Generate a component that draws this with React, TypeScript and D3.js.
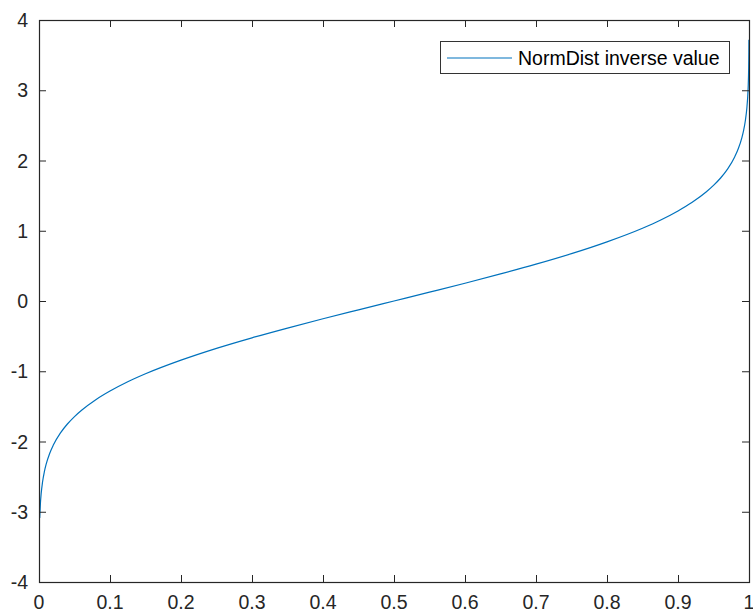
import React from "react";
import * as d3 from "d3";

const probs = [
  0.001, 0.002, 0.003, 0.005, 0.0075, 0.01, 0.015, 0.02, 0.03, 0.04, 0.05, 0.06, 0.08,
  0.1, 0.125, 0.15, 0.2, 0.25, 0.3, 0.35, 0.4, 0.45, 0.5, 0.55, 0.6, 0.65, 0.7, 0.75,
  0.8, 0.85, 0.875, 0.9, 0.92, 0.94, 0.95, 0.96, 0.97, 0.98, 0.985, 0.99, 0.9925,
  0.995, 0.997, 0.998, 0.999, 0.9995, 0.9998, 0.9999,
];
const inverseValues = [
  -3.09, -2.878, -2.748, -2.576, -2.432, -2.326, -2.17, -2.054, -1.881, -1.751, -1.645,
  -1.555, -1.405, -1.282, -1.15, -1.036, -0.842, -0.674, -0.524, -0.385, -0.253, -0.126,
  0, 0.126, 0.253, 0.385, 0.524, 0.674, 0.842, 1.036, 1.15, 1.282, 1.405, 1.555, 1.645,
  1.751, 1.881, 2.054, 2.17, 2.326, 2.432, 2.576, 2.748, 2.878, 3.09, 3.291, 3.54, 3.719,
];
const xTicks = [0, 0.1, 0.2, 0.3, 0.4, 0.5, 0.6, 0.7, 0.8, 0.9, 1];
const yTicks = [-4, -3, -2, -1, 0, 1, 2, 3, 4];
const seriesName = "NormDist inverse value";

const W = 753;
const H = 613;
const left = 39;
const right = 749;
const top = 20;
const bottom = 582;

export default function App() {
  const x = d3.scaleLinear().domain([0, 1]).range([left, right]);
  const y = d3.scaleLinear().domain([-4, 4]).range([bottom, top]);
  const pts: [number, number][] = probs.map((p, i) => [p, inverseValues[i]]);
  const line = d3
    .line<[number, number]>()
    .x((d) => x(d[0]))
    .y((d) => y(d[1]))
    .curve(d3.curveMonotoneX);
  const axisColor = "#262626";
  const font = "'Liberation Sans', Arial, Helvetica, sans-serif";
  const fs = 19.5;
  return (
    <svg
      width={W}
      height={H}
      style={{ position: "absolute", left: 0, top: 0, background: "#fff" }}
    >
      <rect x={0} y={0} width={W} height={H} fill="#fff" />
      <path d={line(pts) || ""} fill="none" stroke="#0072BD" strokeWidth={1.2} />
      <rect
        x={left + 0.5}
        y={top + 0.5}
        width={right - left}
        height={bottom - top}
        fill="none"
        stroke={axisColor}
        strokeWidth={1.2}
      />
      {xTicks.map((t) => (
        <g key={"x" + t}>
          <line x1={x(t) + 0.5} x2={x(t) + 0.5} y1={bottom} y2={bottom - 7} stroke={axisColor} />
          <line x1={x(t) + 0.5} x2={x(t) + 0.5} y1={top} y2={top + 7} stroke={axisColor} />
          <text
            x={x(t)}
            y={bottom + 27}
            textAnchor="middle"
            fontFamily={font}
            fontSize={fs}
            fill={axisColor}
          >
            {String(t)}
          </text>
        </g>
      ))}
      {yTicks.map((t) => (
        <g key={"y" + t}>
          <line x1={left} x2={left + 7} y1={y(t) + 0.5} y2={y(t) + 0.5} stroke={axisColor} />
          <line x1={right} x2={right - 7} y1={y(t) + 0.5} y2={y(t) + 0.5} stroke={axisColor} />
          <text
            x={left - 11}
            y={y(t) + 7}
            textAnchor="end"
            fontFamily={font}
            fontSize={fs}
            fill={axisColor}
          >
            {String(t)}
          </text>
        </g>
      ))}
      <g>
        <rect x={440.5} y={41.5} width={289} height={32} fill="#fff" stroke="#333" strokeWidth={1} />
        <line x1={447} x2={512} y1={58} y2={58} stroke="#0072BD" strokeWidth={1.2} />
        <text x={518} y={64.5} fontFamily={font} fontSize={fs} fill="#000">
          {seriesName}
        </text>
      </g>
    </svg>
  );
}
